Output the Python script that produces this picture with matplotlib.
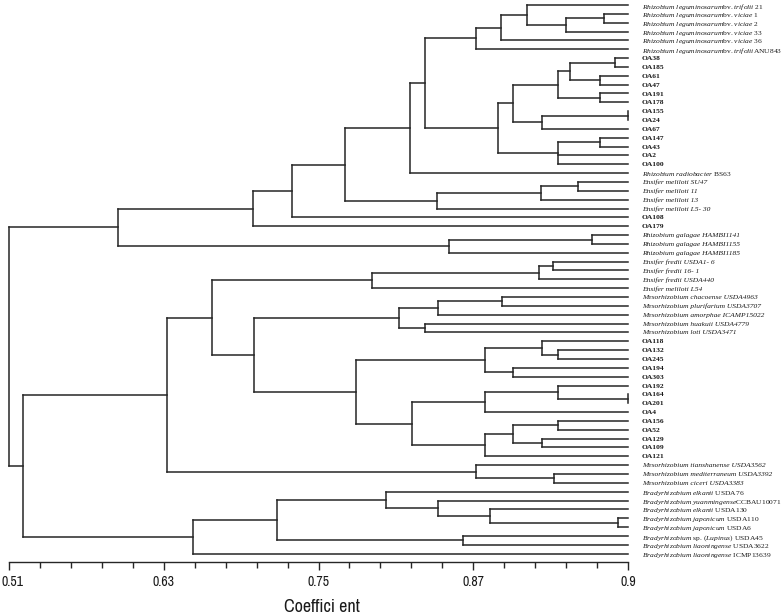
import matplotlib
matplotlib.use("Agg")
import matplotlib.pyplot as plt
from matplotlib import font_manager as fm
from matplotlib.transforms import ScaledTranslation
import numpy as np

# ---------------- data ----------------
leaf_labels = [
    r"$\mathit{Rhizobium\ leguminosarum}$bv. $\mathit{trifolii}$ 21",
    r"$\mathit{Rhizobium\ leguminosarum}$bv. $\mathit{viciae}$ 1",
    r"$\mathit{Rhizobium\ leguminosarum}$bv. $\mathit{viciae}$ 2",
    r"$\mathit{Rhizobium\ leguminosarum}$bv. $\mathit{viciae}$ 33",
    r"$\mathit{Rhizobium\ leguminosarum}$bv. $\mathit{viciae}$ 36",
    r"$\mathit{Rhizobium\ leguminosarum}$bv. $\mathit{trifolii}$ANU843",
    "OA38", "OA185", "OA61", "OA47", "OA191", "OA178", "OA155", "OA24",
    "OA67", "OA147", "OA43", "OA2", "OA100",
    r"$\mathit{Rhizobium\ radiobacter}$ BS63",
    "Ensifer meliloti SU47", "Ensifer meliloti 11", "Ensifer meliloti 13",
    "Ensifer meliloti L5- 30",
    "OA108", "OA179",
    "Rhizobium galagae HAMBI1141", "Rhizobium galagae HAMBI1155",
    "Rhizobium galagae HAMBI1185",
    "Ensifer fredii USDA1- 6", "Ensifer fredii 16- 1", "Ensifer fredii USDA440",
    "Ensifer meliloti L54",
    "Mesorhizobium chacoense USDA4963", "Mesorhizobium plurifarium USDA3707",
    "Mesorhizobium amorphae ICAMP15022", "Mesorhizobium huakuii USDA4779",
    "Mesorhizobium loti USDA3471",
    "OA118", "OA132", "OA245", "OA194", "OA303", "OA192", "OA164", "OA201",
    "OA4", "OA156", "OA52", "OA129", "OA109", "OA121",
    "Mesorhizobium tianshanense USDA3562",
    "Mesorhizobium mediterraneum USDA3392",
    "Mesorhizobium ciceri USDA3383",
    r"$\mathit{Bradyrhizobium\ elkanii}$ USDA76",
    r"$\mathit{Bradyrhizobium\ yuanmingense}$CCBAU10071",
    r"$\mathit{Bradyrhizobium\ elkanii}$ USDA130",
    r"$\mathit{Bradyrhizobium\ japonicum}$ USDA110",
    r"$\mathit{Bradyrhizobium\ japonicum}$ USDA6",
    r"$\mathit{Bradyrhizobium}$ sp. ($\mathit{Lupinus}$) USDA45",
    r"$\mathit{Bradyrhizobium\ liaoningense}$ USDA3622",
    r"$\mathit{Bradyrhizobium\ liaoningense}$ ICMP13639",
]

# cluster merges: (node id, members [leaf index or node id], similarity)
merges_upper = [
    ("v12", [1, 2], 0.9714),
    ("v33", ["v12", 3], 0.9419),
    ("t21", [0, "v33"], 0.9114),
    ("v36", ["t21", 4], 0.8913),
    ("leg", ["v36", 5], 0.8721),
    ("o38", [6, 7], 0.9799),
    ("o61", [8, 9], 0.9683),
    ("oL", ["o38", "o61"], 0.9450),
    ("o191", [10, 11], 0.9683),
    ("oK", ["oL", "o191"], 0.9357),
    ("o155", [12, 13], 0.9900),
    ("o67", ["o155", 14], 0.9233),
    ("oJ", ["oK", "o67"], 0.9008),
    ("o147", [15, 16], 0.9683),
    ("oM", ["o147", 17, 18], 0.9357),
    ("oI", ["oJ", "oM"], 0.8895),
    ("G", ["leg", "oI"], 0.8326),
    ("F", ["G", 19], 0.8209),
    ("su", [20, 21], 0.9512),
    ("e13", ["su", 22], 0.9225),
    ("l530", ["e13", 23], 0.8419),
    ("E", ["F", "l530"], 0.7705),
    ("D", ["E", 24], 0.7294),
    ("C", ["D", 25], 0.6992),
    ("h41", [26, 27], 0.9621),
    ("h85", ["h41", 28], 0.8512),
    ("A", ["C", "h85"], 0.5945),
]
merges_lower = [
    ("f1", [29, 30], 0.9318),
    ("f2", ["f1", 31], 0.9210),
    ("f3", ["f2", 32], 0.7915),
    ("ch", [33, 34], 0.8921),
    ("am", ["ch", 35], 0.8424),
    ("hu", [36, 37], 0.8326),
    ("meso", ["am", "hu"], 0.8124),
    ("o132", [39, 40], 0.9355),
    ("o118", [38, "o132"], 0.9235),
    ("o194", [41, 42], 0.9011),
    ("q1", ["o118", "o194"], 0.8791),
    ("o164", [44, 45], 0.9900),
    ("o192", [43, "o164"], 0.9355),
    ("o4", ["o192", 46], 0.8791),
    ("o156", [47, 48], 0.9355),
    ("o129", [49, 50], 0.9235),
    ("q2", ["o156", "o129"], 0.9011),
    ("o121", ["q2", 51], 0.8791),
    ("q3", ["o4", "o121"], 0.8227),
    ("Q", ["q1", "q3"], 0.7791),
    ("P", ["meso", "Q"], 0.7000),
    ("O", ["f3", "P"], 0.6672),
    ("mc", [53, 54], 0.9326),
    ("ti", [52, "mc"], 0.8721),
    ("N", ["O", "ti"], 0.6323),
    ("jap", [58, 59], 0.9825),
    ("b130", [57, "jap"], 0.8830),
    ("yu", [56, "b130"], 0.8424),
    ("T", [55, "yu"], 0.8022),
    ("b45", [60, 61], 0.8623),
    ("S", ["T", "b45"], 0.7176),
    ("R", ["S", 62], 0.6529),
    ("B", ["N", "R"], 0.5211),
    ("root", ["A", "B"], 0.5100),
]

tick_values = [0.51, 0.63, 0.75, 0.87, 0.99]
tick_labels = ["0.51", "0.63", "0.75", "0.87", "0.9"]
axis_title = "Coeffici ent"

# ---------------- styling / layout ----------------
fonts = fm.fontManager.ttflist
names = {f.name for f in fonts}
narrow = None
for f in fonts:
    if "Narrow" in f.name or "Condensed" in f.name:
        narrow = dict(family=f.name)
        break
if narrow is None:
    cond = [f for f in fonts if f.stretch in ("condensed", "semi-condensed")
            and "Sans" in f.name]
    narrow = dict(family=cond[0].name, stretch=cond[0].stretch) if cond else None
is_narrow = narrow is not None
if narrow is None:
    narrow = dict(family="Liberation Sans")
tick_fs = 10 if is_narrow else 9
title_fs = 13 if is_narrow else 11

serif = "Liberation Serif"
plt.rcParams["mathtext.fontset"] = "custom"
plt.rcParams["mathtext.it"] = "Liberation Serif:italic"
plt.rcParams["mathtext.rm"] = "Liberation Serif"
plt.rcParams["mathtext.bf"] = "Liberation Serif:bold"

W, H = 784, 616
x0_px, px_per_unit = 9.0, 1289.6
leaf_y0, leaf_dy = 5.0, 8.85
axis_y_px = 562
line_color = "#262626"
lw = 1.1


def xval(px):
    return tick_values[0] + (px - x0_px) / px_per_unit


fig = plt.figure(figsize=(W / 100, H / 100), dpi=100)
ax = fig.add_axes([0, 0, 1, 1])
ax.set_xlim(xval(0), xval(W))
ax.set_ylim((H - leaf_y0) / leaf_dy, (0 - leaf_y0) / leaf_dy)
ax.axis("off")

leaf_x = max(tick_values)
nodes = {}


def node_pos(k):
    if isinstance(k, int):
        return float(k), leaf_x
    return nodes[k]


for nid, kids, h in merges_upper + merges_lower:
    pts = [node_pos(k) for k in kids]
    ys = [p[0] for p in pts]
    ax.plot([h, h], [min(ys), max(ys)], color=line_color, lw=lw,
            solid_capstyle="projecting")
    for y, x in pts:
        ax.plot([x, h], [y, y], color=line_color, lw=lw, solid_capstyle="projecting")
    nodes[nid] = ((min(ys) + max(ys)) / 2.0, h)

for i, lab in enumerate(leaf_labels):
    kw = dict(fontsize=5.4, va="center_baseline", ha="left", family=serif,
              color="#1a1a1a")
    if lab.startswith("OA"):
        kw["fontweight"] = "bold"
    elif "$" not in lab:
        kw["fontstyle"] = "italic"
    ax.annotate(lab, (leaf_x, i), xytext=(10, 0), textcoords="offset points", **kw)

# scale axis
ax2 = fig.add_axes([x0_px / W, 1 - axis_y_px / H,
                    (tick_values[-1] - tick_values[0]) * px_per_unit / W, 0.02])
ax2.set_xlim(tick_values[0], tick_values[-1])
ax2.patch.set_alpha(0)
for s in ("top", "left", "right"):
    ax2.spines[s].set_visible(False)
ax2.spines["bottom"].set_color(line_color)
ax2.spines["bottom"].set_linewidth(1.0)
ax2.set_yticks([])
ax2.set_xticks(tick_values)
ax2.set_xticklabels(tick_labels, fontsize=tick_fs, color="#1a1a1a", **narrow)
ax2.set_xticks(np.arange(tick_values[0], tick_values[-1] + 1e-9, 0.024), minor=True)
ax2.tick_params(axis="x", which="major", direction="out", length=6, width=1.0,
                color=line_color, pad=3)
ax2.tick_params(axis="x", which="minor", direction="out", length=4, width=1.0,
                color=line_color)
first = ax2.get_xticklabels()[0]
first.set_transform(first.get_transform() + ScaledTranslation(3.5 / 100, 0, fig.dpi_scale_trans))

fig.text(322 / W, 1 - 607 / H, axis_title, ha="center", va="center",
         fontsize=title_fs, color="#1a1a1a", **narrow)

fig.savefig("out.png", dpi=100)
